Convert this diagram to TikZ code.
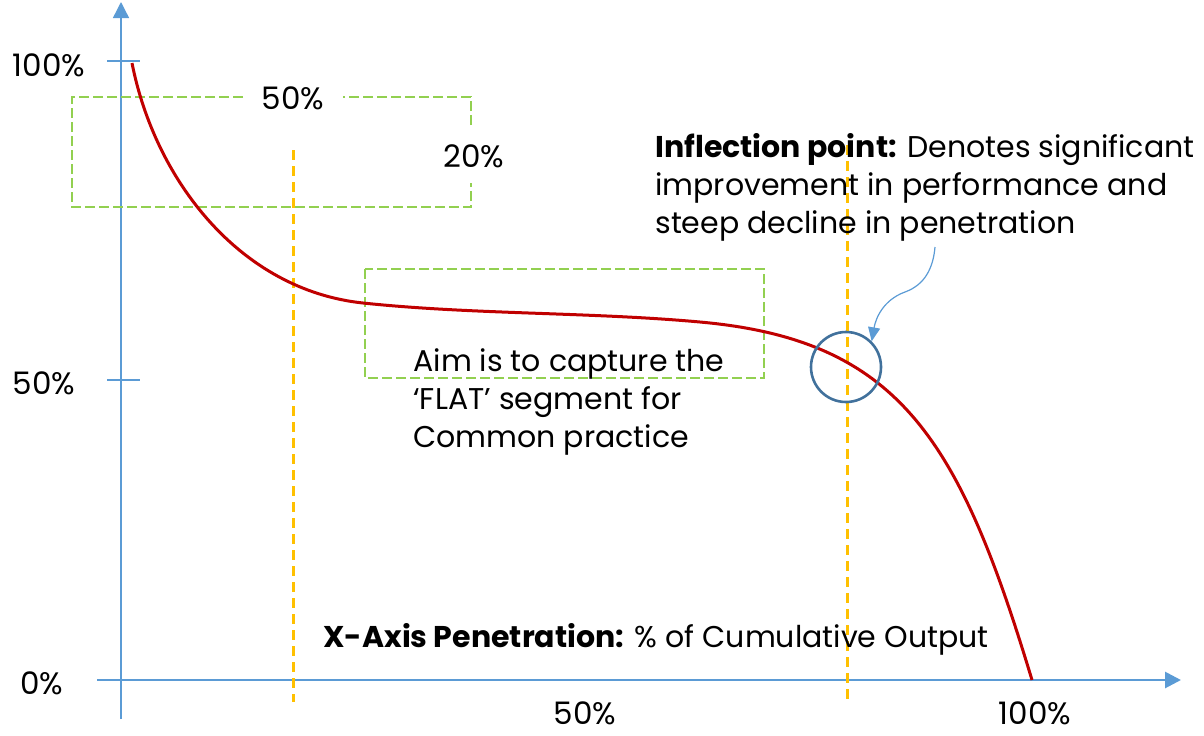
\documentclass[tikz,border=0pt]{standalone}
\usepackage{fontspec}
\setmainfont{Poppins}
\usetikzlibrary{arrows.meta}
\definecolor{axisblue}{HTML}{5B9BD5}
\definecolor{curvered}{HTML}{C00000}
\definecolor{guideyellow}{HTML}{FFC000}
\definecolor{boxgreen}{HTML}{92D050}
\definecolor{ringblue}{HTML}{41719C}
\tikzset{
  axisline/.style={axisblue,-{Triangle[length=8pt,width=8pt]}},
  guide/.style={guideyellow,line width=1.5pt,dash pattern=on 5pt off 3pt},
  greenbox/.style={boxgreen,line width=1.1pt,dash pattern=on 5pt off 2pt},
  lbl/.style={font=\fontsize{15.5}{19}\selectfont,inner sep=0pt},
  note/.style={font=\fontsize{15}{19}\selectfont,align=left,inner sep=0pt},
}
\begin{document}
\begin{tikzpicture}[x=0.5pt,y=-0.5pt]
\useasboundingbox (0,0) rectangle (1204,735);
% axes
\draw[axisline,line width=0.7pt](121,719)--(121,2);
\draw[axisline,line width=1.4pt](97,680)--(1181,680);
\draw[axisblue,line width=0.7pt](107,61)--(140,61);
\draw[axisblue,line width=0.7pt](107,380)--(140,380);
\node[lbl] (ytop) at (49,65) {100\%};
\node[lbl] (ymid) at (44,383) {50\%};
\node[lbl] (ylow) at (42,683) {0\%};
\node[lbl] (xmid) at (585,713) {50\%};
\node[lbl] (xtop) at (1035,713) {100\%};
% guides
\draw[guide](293,150)--(293,702);
\draw[guide](847,145)--(847,702);
% green boxes
\node[lbl] (topfifty) at (293,98) {50\%};
\node[lbl] (twenty) at (474,156) {20\%};
\draw[greenbox](243,97)--(72,97)--(72,207)--(471,207)--(471,183);
\draw[greenbox](471,125)--(471,97)--(343,97);
\draw[greenbox](365,269) rectangle (764,378);
% curve
\draw[curvered,line width=1.5pt](132,63) .. controls (155,180) and (240,290) .. (363,303)
  .. controls (473,314.6) and (590,312) .. (700,322)
  .. controls (900,340) and (959.5,440) .. (1032,680);
% inflection
\node[circle,draw=ringblue,line width=1.3pt,minimum size=35pt,inner sep=0pt] (ring) at (846,367) {};
\node[note,anchor=north west] (infl) at (655,133)
  {\textbf{Inflection point:} Denotes significant\\improvement in performance and\\steep decline in penetration};
\coordinate (arrowstart) at (935,247);
\coordinate (bend) at (905,292);
\draw[axisblue,line width=0.6pt,-{Triangle[length=7pt,width=6pt]}] (arrowstart) to[out=-95,in=20] (bend) to[out=200,in=80] (ring.north east);
% notes
\node[note,anchor=north west] (aim) at (413,348)
  {Aim is to capture the\\‘FLAT’ segment for\\Common practice};
\node[note,anchor=west] (xaxis) at (323,639)
  {\textbf{X-Axis Penetration:} \% of Cumulative Output};
\end{tikzpicture}
\end{document}
